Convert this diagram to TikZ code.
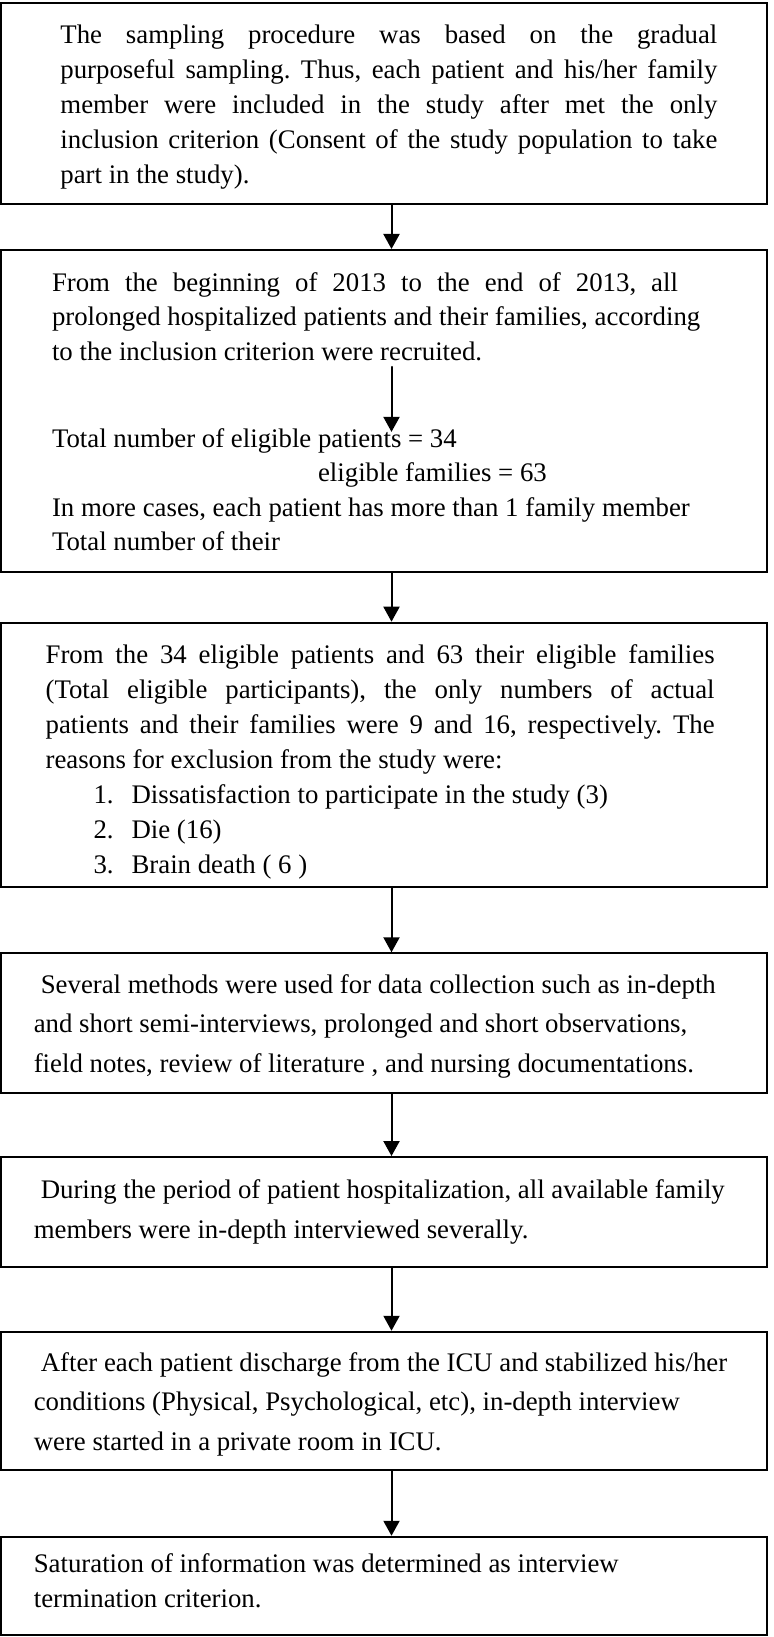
\documentclass[tikz,border=0pt]{standalone}
\usepackage{fontspec}
\setmainfont{Liberation Serif}
\usetikzlibrary{arrows.meta}
\frenchspacing
\tikzset{
  stage/.style={draw,line width=1pt,minimum width=383pt,inner sep=0pt},
  txt/.style={anchor=north west,inner sep=0pt,align=left,font=\fontsize{13.4pt}{17.5pt}\selectfont},
  flow/.style={->,line width=1pt}
}
\newcommand{\jline}[2]{\strut\makebox[#1][s]{#2}}
\newcommand{\listline}[2]{\hspace*{24pt}\makebox[19pt][l]{#1}#2}

\begin{document}
\begin{tikzpicture}[line cap=round,>={Triangle[length=7.5pt,width=8pt]},x=0.5pt,y=-0.5pt]
		\useasboundingbox (0,0) rectangle (773,1637);
		\coordinate (axis) at (391.5,0);
		% boxes
		\node[stage,minimum height=100.5pt] (b1) at (384,103.5) {};
		\node[stage,minimum height=161pt] (b2) at (384,411) {};
		\node[stage,minimum height=132pt] (b3) at (384,754.7) {};
		\node[stage,minimum height=70pt] (b4) at (384,1023.3) {};
		\node[stage,minimum height=54.85pt] (b5) at (384,1211.9) {};
		\node[stage,minimum height=69.15pt] (b6) at (384,1400.9) {};
		\node[stage,minimum height=49.15pt] (b7) at (384,1585.9) {};
		% texts
		\node[txt] (sampling) at (60,18.8) {\jline{328.5pt}{The sampling procedure was based on the gradual}\\
			\jline{328.5pt}{purposeful sampling. Thus, each patient and his/her family}\\
			\jline{328.5pt}{member were included in the study after met the only}\\
			\jline{328.5pt}{inclusion criterion (Consent of the study population to take}\\
			part in the study).};
		\node[txt,font=\fontsize{13.4pt}{17.25pt}\selectfont] (recruit) at (51.6,266.5) {\jline{313pt}{From the beginning of 2013 to the end of 2013, all}\\
			prolonged hospitalized patients and their families, according\\
			to the inclusion criterion were recruited.\strut};
		\node[txt,font=\fontsize{13.4pt}{17.25pt}\selectfont] (eligible) at (51.6,422.9) {\strut Total number of eligible patients = 34\\
			\phantom{Total number of eligible }eligible families = 63\\
			In more cases, each patient has more than 1 family member\\
			Total number of their};
		\node[txt] (actual) at (45.2,638.8) {\jline{334.5pt}{From the 34 eligible patients and 63 their eligible families}\\
			\jline{334.5pt}{(Total eligible participants), the only numbers of actual}\\
			\jline{334.5pt}{patients and their families were 9 and 16, respectively. The}\\
			reasons for exclusion from the study were:\\
			\listline{1.}{Dissatisfaction to participate in the study (3)}\\
			\listline{2.}{Die (16)}\\
			\listline{3.}{Brain death ( 6 )}};
		\node[txt,font=\fontsize{13.4pt}{19.75pt}\selectfont] (methods) at (33.4,965) {\strut\hspace*{3.5pt}Several methods were used for data collection such as in-depth\\
			and short semi-interviews, prolonged and short observations,\\
			field notes, review of literature , and nursing documentations.};
		\node[txt,font=\fontsize{13.4pt}{20pt}\selectfont] (during) at (33.4,1170.3) {\strut\hspace*{3.5pt}During the period of patient hospitalization, all available family\\
			members were in-depth interviewed severally.};
		\node[txt,font=\fontsize{13.4pt}{19.75pt}\selectfont] (after) at (33.4,1343.4) {\strut\hspace*{3.5pt}After each patient discharge from the ICU and stabilized his/her\\
			conditions (Physical, Psychological, etc), in-depth interview\\
			were started in a private room in ICU.};
		\node[txt,font=\fontsize{13.4pt}{17.8pt}\selectfont] (saturation) at (33.4,1546.8) {\strut Saturation of information was determined as interview\\
			termination criterion.};
		% arrows
		\draw[flow] (b1.south -| axis) -- (b2.north -| axis);
		\draw[flow,shorten <=-2pt,shorten >=-4.5pt] (recruit.south -| axis) -- (eligible.north -| axis);
		\draw[flow] (b2.south -| axis) -- (b3.north -| axis);
		\draw[flow] (b3.south -| axis) -- (b4.north -| axis);
		\draw[flow] (b4.south -| axis) -- (b5.north -| axis);
		\draw[flow] (b5.south -| axis) -- (b6.north -| axis);
		\draw[flow] (b6.south -| axis) -- (b7.north -| axis);
\end{tikzpicture}
\end{document}
